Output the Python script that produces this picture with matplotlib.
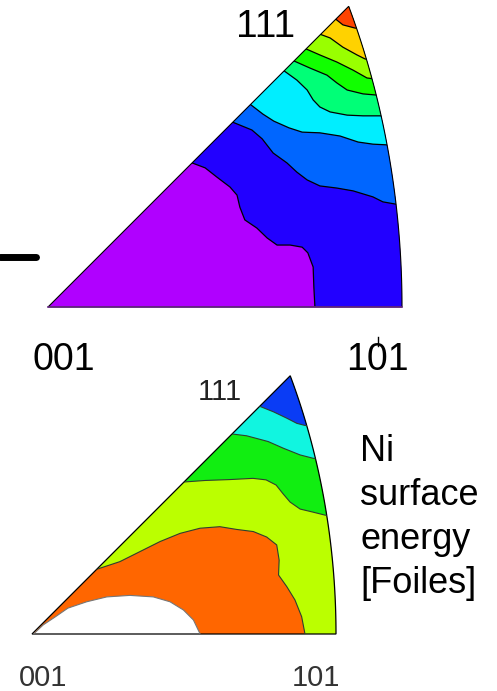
import numpy as np
import matplotlib
matplotlib.use('Agg')
import matplotlib.pyplot as plt
from matplotlib.patches import Polygon
from matplotlib.lines import Line2D

W, H = 497, 691
plt.rcParams['font.family'] = ['Liberation Sans', 'DejaVu Sans']

# contour boundaries, (u, v) in % of the 001-101 distance
# top triangle, from the 001 side towards 111
top_colors = ['#b000ff', '#2200ff', '#0066ff', '#00eeff', '#00ff77',
              '#11ff00', '#99ff00', '#ffd200', '#ff4400']
top_a = [(40.7, 40.7), (44.4, 39.3), (47.7, 36.7), (51.4, 33.9), (53.4, 31.6),
         (54.2, 28.2), (55.6, 24.6), (59.0, 22.3), (61.9, 19.5), (64.7, 17.5),
         (68.4, 17.5), (71.8, 16.9), (73.4, 15.3), (74.9, 11.3), (75.1, 5.6),
         (75.4, 0.0)]
top_b = [(52.2, 52.2), (57.6, 50.0), (60.5, 47.5), (63.6, 43.5), (67.5, 40.7),
         (70.3, 38.1), (73.2, 35.9), (76.8, 34.2), (81.6, 33.6), (86.2, 32.8),
         (91.8, 31.1), (94.6, 29.7), (98.0, 29.1), (100.5, 28.7)]
top_c = [(57.2, 57.2), (60.7, 54.5), (63.8, 52.5), (68.1, 50.6), (71.8, 49.4),
         (76.8, 49.2), (82.5, 48.3), (87.6, 46.6), (91.8, 46.0), (95.8, 45.8),
         (98.5, 45.6)]
top_d = [(66.7, 66.7), (70.3, 64.1), (73.2, 61.3), (74.9, 58.5), (76.8, 56.5),
         (79.7, 55.1), (84.5, 54.2), (89.0, 54.0), (93.8, 54.0), (97.0, 54.0)]
top_e = [(69.5, 69.5), (74.0, 67.5), (78.8, 65.5), (81.6, 63.3), (84.5, 61.3),
         (89.0, 60.2), (92.4, 59.9), (96.0, 59.8)]
top_f = [(72.9, 72.9), (76.8, 71.2), (81.6, 69.2), (86.2, 66.9), (90.1, 64.7),
         (94.0, 64.2)]
top_g = [(77.0, 77.0), (79.7, 76.0), (83.3, 73.4), (87.3, 71.2), (89.5, 70.1),
         (92.0, 69.5)]
top_h = [(81.3, 81.3), (83.3, 79.7), (86.7, 78.8), (89.0, 78.5)]

# bottom triangle (Ni surface energy, Foiles)
bot_colors = ['#ff6600', '#bbff00', '#11ee11', '#11f5e0', '#0a3cf5']
bot_4 = [(21.3, 21.3), (28.9, 23.8), (35.5, 27.1), (42.1, 30.4), (48.7, 33.1),
         (55.3, 34.8), (61.8, 35.3), (67.3, 34.4), (72.8, 33.7), (77.2, 31.9),
         (80.5, 29.3), (81.3, 24.3), (81.1, 19.4), (83.8, 15.6), (86.5, 11.2),
         (88.7, 5.7), (89.8, 0.0)]
bot_3 = [(50.0, 50.0), (56.9, 50.5), (65.1, 50.8), (72.7, 51.2), (77.0, 50.7),
         (80.3, 49.0), (82.6, 46.1), (84.9, 43.4), (88.2, 41.1), (92.4, 40.1),
         (96.4, 39.1), (98.5, 38.8)]
bot_2 = [(65.8, 65.8), (70.6, 65.2), (75.1, 64.0), (77.7, 63.3), (82.7, 61.1),
         (88.2, 58.9), (92.5, 57.8), (95.0, 57.5)]
bot_1 = [(74.9, 74.9), (79.4, 73.1), (83.8, 71.0), (87.1, 69.3), (89.8, 68.6),
         (92.0, 68.4)]
bot_white = [(0.5, 0.0), (3.7, 3.0), (7.6, 5.6), (11.8, 8.5), (18.0, 10.6),
             (24.6, 12.2), (32.2, 12.7), (39.9, 12.2), (45.4, 10.6), (49.8, 7.9),
             (53.1, 4.6), (55.3, 0.0)]


def outline(n=80):
    # equal-area projection of the 001-101-111 standard triangle
    s = np.linspace(0, 1, n)
    d = np.column_stack([np.ones(n), s, np.ones(n)])
    d /= np.linalg.norm(d, axis=1)[:, None]
    r = 2 * np.sin(np.arccos(d[:, 2]) / 2) / (2 * np.sin(np.pi / 8))
    phi = np.arctan2(s, 1)
    arc = np.column_stack([r * np.cos(phi), r * np.sin(phi)]) * 100
    return np.vstack([[0, 0], arc])


def upper_region(line):
    p = np.array(line, dtype=float)
    if p[-1, 1] <= 0.01:
        tail = [(p[-1, 0], -50), (150, -50)]
    else:
        tail = [(150, p[-1, 1])]
    tail += [(150, 150), (p[0, 0], 150)]
    return np.vstack([p, tail])


def tri_axes(fig, x0, y0, scale):
    # x0, y0: pixel position of the 001 corner; scale: pixels per unit
    lo, hx, hy = -2, 102, 88
    left, right = x0 + lo * scale, x0 + hx * scale
    bottom, top = y0 - lo * scale, y0 - hy * scale
    ax = fig.add_axes([left / W, 1 - bottom / H, (right - left) / W, (bottom - top) / H])
    ax.set_xlim(lo, hx)
    ax.set_ylim(lo, hy)
    ax.axis('off')
    return ax


def draw_triangle(ax, colors, lines, line_color, lw):
    tri = Polygon(outline(), closed=True, facecolor=colors[0], edgecolor='none')
    ax.add_patch(tri)
    for line, c in zip(lines, colors[1:]):
        reg = Polygon(upper_region(line), closed=True, facecolor=c, edgecolor='none')
        ax.add_patch(reg)
        reg.set_clip_path(tri)
    for line in lines:
        p = np.array(line)
        ln, = ax.plot(p[:, 0], p[:, 1], color=line_color, lw=lw)
        ln.set_clip_path(tri)
    return tri


fig = plt.figure(figsize=(W / 100, H / 100), dpi=100)

# top triangle
ax1 = tri_axes(fig, 48, 307, 3.54)
draw_triangle(ax1, top_colors, [top_a, top_b, top_c, top_d, top_e, top_f, top_g, top_h],
              'black', 0.9)
ax1.add_patch(Polygon(outline(), closed=True, fill=False, edgecolor='black', lw=0.8))
ax1.plot([0, 100], [0, 0], color='#6a2a8a', lw=1.2)

# bottom triangle
ax2 = tri_axes(fig, 32, 634, 3.04)
tri2 = draw_triangle(ax2, bot_colors, [bot_4, bot_3, bot_2, bot_1], '#2f3f2f', 0.8)
wp = np.array(bot_white)
white = Polygon(wp, closed=True, facecolor='white', edgecolor='none')
ax2.add_patch(white)
white.set_clip_path(tri2)
wl, = ax2.plot(wp[:, 0], wp[:, 1], color='#777777', lw=0.8)
wl.set_clip_path(tri2)
ax2.add_patch(Polygon(outline(), closed=True, fill=False, edgecolor='black', lw=0.9))


def label(px, py, s, size, color='black', **kw):
    fig.text(px / W, 1 - py / H, s, fontsize=size, color=color, ha='center',
             va='baseline', **kw)


label(266, 37, '111', 28)
label(63.5, 370, '001', 27)
label(377.5, 370, '101', 27)
label(220, 400, '111', 21, color='#222222')
label(43, 686, '001', 21, color='#333333')
label(316, 686, '101', 21, color='#333333')
fig.text(360 / W, 1 - 593 / H, 'Ni\nsurface\nenergy\n[Foiles]', fontsize=26,
         ha='left', va='baseline', linespacing=1.33)

# stray marks in the original picture
fig.add_artist(Line2D([0, 36 / W], [1 - 256.5 / H] * 2, lw=5, color='black',
                      solid_capstyle='round'))
fig.add_artist(Line2D([377.5 / W] * 2, [1 - 337 / H, 1 - 346 / H], lw=1, color='black'))

fig.savefig('out.png', dpi=100)
